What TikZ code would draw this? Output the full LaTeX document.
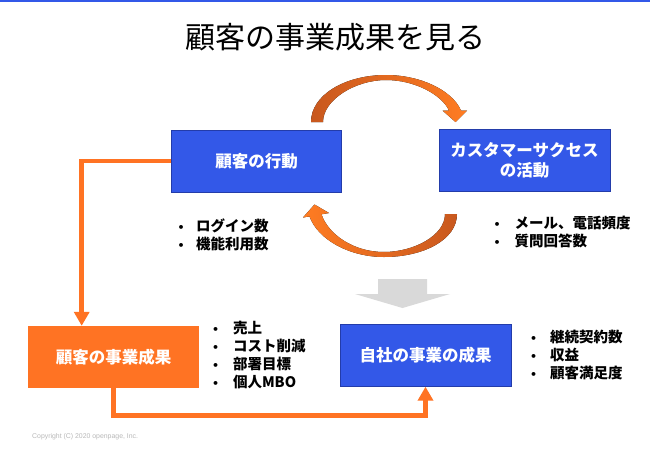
\documentclass[tikz,border=0pt]{standalone}
\usepackage{fontspec}
\newfontfamily\jp{Noto Sans CJK JP}
\newfontfamily\dv{DejaVu Sans}
\newfontfamily\ls{Liberation Sans}
\usetikzlibrary{arrows.meta}
\definecolor{boxblue}{RGB}{51,88,232}
\definecolor{boxedge}{RGB}{35,60,170}
\definecolor{orng}{RGB}{255,115,35}
\definecolor{orngdark}{RGB}{200,88,30}
\definecolor{orngbright}{RGB}{255,124,34}
\definecolor{grayarrow}{RGB}{217,217,217}
\definecolor{copygray}{RGB}{185,185,185}
\newcommand\blt[1]{\makebox[#1][l]{\dv\fontsize{11}{18}\selectfont •}}
\tikzset{
  bluebox/.style={draw=boxedge, line width=0.8pt, fill=boxblue, text=white,
    font=\jp\bfseries\fontsize{16.5}{20}\selectfont, minimum width=170pt,
    minimum height=62pt, inner sep=0pt, align=center},
  orangebox/.style={fill=orng, text=white,
    font=\jp\bfseries\fontsize{16.5}{20}\selectfont, minimum width=171pt,
    minimum height=62pt, inner sep=0pt, align=center},
  bullets/.style={anchor=west, inner sep=0pt, align=left, text=black,
    font=\jp\bfseries\fontsize{14.5}{18}\selectfont},
  flow/.style={draw=orng, line width=4.5pt, -{Triangle[width=15pt,length=14pt]}},
}
\begin{document}
\begin{tikzpicture}[x=1pt,y=-1pt]
\useasboundingbox (0,0) rectangle (650,450);
\fill[white] (0,0) rectangle (650,450);
\fill[boxblue] (0,0) rectangle (650,1.5);

\node[font=\jp\fontsize{30}{36}\selectfont, inner sep=0pt] (title) at (335,37) {顧客の事業成果を見る};

\node[bluebox] (act) at (256.7,161) {顧客の行動};
\node[bluebox, minimum width=171pt] (cs) at (524.5,160.5) {カスタマーサクセス\\の活動};
\node[orangebox] (cres) at (113.5,357) {顧客の事業成果};
\node[bluebox, minimum width=171pt] (own) at (425.5,355.3) {自社の事業の成果};

\node[bullets] (l1) at (177.5,234.4) {\blt{18.5pt}ログイン数\\\blt{18.5pt}機能利用数};
\node[bullets] (l2) at (493.5,232) {\blt{21pt}メール、電話頻度\\\blt{21pt}質問回答数};
\node[bullets] (l3) at (211.8,355.5) {\blt{21pt}売上\\\blt{21pt}コスト削減\\\blt{21pt}部署目標\\\blt{21pt}個人MBO};
\node[bullets] (l4) at (529.8,355) {\blt{20pt}継続契約数\\\blt{20pt}収益\\\blt{20pt}顧客満足度};

% curved arrows
\fill[left color=orngdark, right color=orngbright]
  (311,122) .. controls (311,95) and (345,75) .. (386,75)
  .. controls (420,75) and (452,90) .. (461,110.5)
  -- (467,110.5) -- (455.5,122) -- (442.5,110.5) -- (449,110.5)
  .. controls (442,95) and (415,80) .. (386,80)
  .. controls (355,80) and (323,100) .. (323,122) -- cycle;
\fill[left color=orngbright, right color=orngdark]
  (457,214) .. controls (457,240) and (423,257) .. (384,257)
  .. controls (350,257) and (318,240) .. (309.5,216.4)
  -- (303,217.5) -- (314.5,204.5) -- (329,213) -- (321.5,214.3)
  .. controls (328,234) and (353,252) .. (384,252)
  .. controls (413,252) and (445,236) .. (445,214) -- cycle;

% gray arrow
\fill[grayarrow] (378,279) -- (427,279) -- (427,294) -- (450,294) -- (402.5,308)
  -- (355,294) -- (378,294) -- cycle;

% connectors
\draw[flow] (act.west) -| ([xshift=-31.8pt]cres.north);
\draw[flow] (cres.south) -- ++(0,27.5) -| (own.south);

\node[anchor=west, inner sep=0pt, text=copygray, font=\ls\fontsize{6.9}{8}\selectfont] (copy) at (32,437) {Copyright (C) 2020 openpage, Inc.};
\end{tikzpicture}
\end{document}
